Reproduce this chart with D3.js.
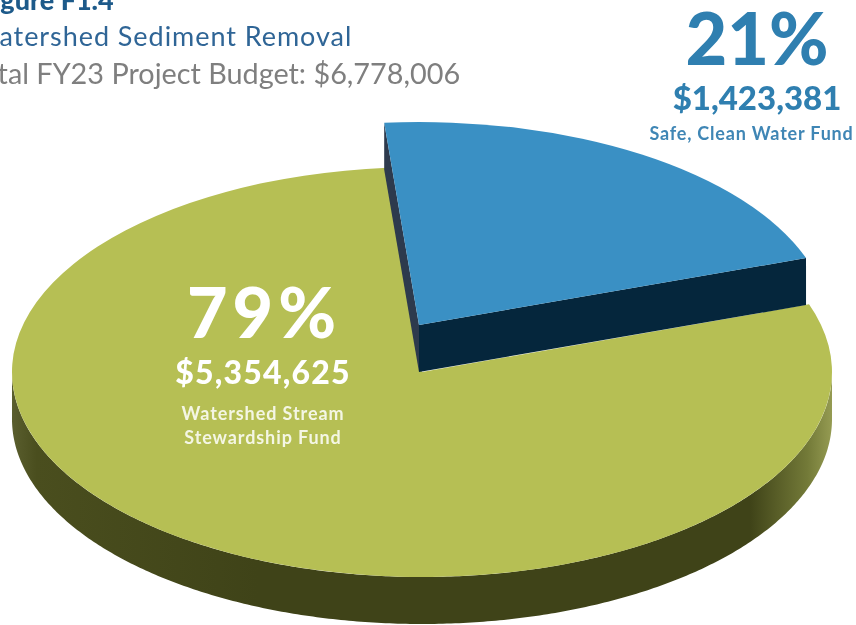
<!DOCTYPE html>
<html>
<head>
<meta charset="utf-8">
<script src="https://cdn.jsdelivr.net/npm/d3@7"></script>
<style>
  html, body { margin: 0; padding: 0; background: #fff; overflow: hidden; }
  text { font-family: Lato, "Open Sans", sans-serif; filter: blur(0.4px); }
</style>
</head>
<body>
<svg id="chart" width="856" height="625"></svg>
<script>
var funds = ["Safe, Clean Water Fund", "Watershed Stream", "Stewardship Fund"],
    amounts = [1423381, 5354625],
    percents = ["21%", "79%"],
    colors = ["#3a90c4", "#b6bf54"],
    titles = ["Figure F1.4", "Watershed Sediment Removal", "Total FY23 Project Budget: $6,778,006"];

var svg = d3.select("#chart"),
    cx = 422, cy = 372,
    rx = 410, ry = 205, ryBlue = 203,
    depth = 47,
    liftX = -3, liftY = -47,
    rotation = -0.085,
    money = d3.format("$,");

var slices = d3.pie().sort(null)
    .startAngle(rotation)
    .endAngle(2 * Math.PI + rotation)(amounts);

var arc = d3.arc().innerRadius(0).outerRadius(rx);

function px(a) { return rx * Math.sin(a); }
function py(a, r) { return -r * Math.cos(a); }

// rim gradient: dark across the front, catching light at the far right
var defs = svg.append("defs");
var rim = defs.append("linearGradient")
    .attr("id", "rim")
    .attr("gradientUnits", "userSpaceOnUse")
    .attr("x1", cx - rx).attr("x2", cx + rx)
    .attr("y1", 0).attr("y2", 0);
[[0, "#5a5e2e"], [0.03, "#4a4e1e"], [0.3, "#3f4318"], [0.9, "#3f4318"], [0.93, "#565b26"], [0.97, "#737a38"], [1, "#959b52"]]
  .forEach(function(s) {
    rim.append("stop").attr("offset", s[0]).attr("stop-color", s[1]);
  });

// outer wall of the green disc
var wall = d3.area()
    .x(a => cx + px(a))
    .y0(a => cy + py(a, ry))
    .y1(a => cy + py(a, ry) + depth);

svg.append("path")
    .attr("d", wall(d3.range(Math.PI / 2, 3 * Math.PI / 2 + 0.01, 0.01)))
    .attr("fill", "url(#rim)");

// green top
svg.append("path")
    .attr("transform", "translate(" + cx + "," + cy + ") scale(1," + (ry / rx) + ")")
    .attr("d", arc(slices[1]))
    .attr("fill", colors[1]);

// lifted blue slice and its two cut faces
var blue = slices[0],
    bx = cx + liftX, by = cy + liftY;

function face(a) {
  var x = bx + px(a), y = by + py(a, ryBlue);
  return "M" + bx + "," + by + "L" + x + "," + y + "L" + x + "," + (y + depth) + "L" + bx + "," + (by + depth) + "Z";
}

svg.append("path").attr("d", face(blue.startAngle)).attr("fill", "#2d3a4d");
svg.append("path").attr("d", face(blue.endAngle)).attr("fill", "#05263c");

svg.append("path")
    .attr("transform", "translate(" + bx + "," + by + ") scale(1," + (ryBlue / rx) + ")")
    .attr("d", arc(blue))
    .attr("fill", colors[0]);

// headings, running off the left of the page as in the scan
var headings = [
  {x: -22, y: 10, size: 27, weight: 900, fill: "#1d5a8a", spacing: 0},
  {x: -28, y: 46, size: 27, weight: 400, fill: "#2f6596", spacing: 0.95},
  {x: -32, y: 84, size: 28.8, weight: 400, fill: "#7f7f7f", spacing: 0}
];
svg.selectAll("text.head")
    .data(titles)
    .enter().append("text")
    .attr("class", "head")
    .attr("x", (d, i) => headings[i].x)
    .attr("y", (d, i) => headings[i].y)
    .attr("font-size", (d, i) => headings[i].size)
    .attr("font-weight", (d, i) => headings[i].weight)
    .attr("letter-spacing", (d, i) => headings[i].spacing)
    .attr("fill", (d, i) => headings[i].fill)
    .text(d => d);

function label(x, y, size, weight, fill, spacing, str) {
  svg.append("text")
      .attr("x", x).attr("y", y)
      .attr("text-anchor", "middle")
      .attr("font-size", size)
      .attr("font-weight", weight)
      .attr("letter-spacing", spacing)
      .attr("fill", fill)
      .text(str);
}

label(757, 65, 72, 900, "#2f7fb0", 0, percents[0]);
label(757, 110, 33, 900, "#2f7fb0", 0, money(amounts[0]));
label(751.5, 140, 18, 700, "#3f86b5", 0.8, funds[0]);

label(264, 338, 70, 900, "#fff", 5, percents[1]);
label(263, 384, 32, 900, "#fff", 1.2, money(amounts[1]));
label(263, 420, 18, 700, "#f4f6e4", 0.9, funds[1]);
label(263, 444, 18, 700, "#f4f6e4", 0.9, funds[2]);
</script>
</body>
</html>
